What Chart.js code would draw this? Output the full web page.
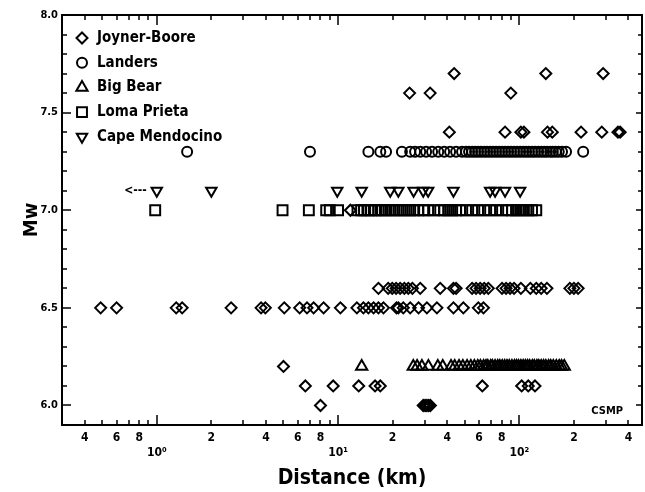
<!DOCTYPE html>
<html>
<head>
<meta charset="utf-8">
<script src="https://cdn.jsdelivr.net/npm/chart.js@4.4.0/dist/chart.umd.min.js"></script>
<style>
  html, body { margin: 0; padding: 0; background: #fff; overflow: hidden; }
  #wrap { width: 645px; height: 492px; }
</style>
</head>
<body>
<div id="wrap"><canvas id="chart" width="645" height="492"></canvas></div>
<script>
// distances in km, magnitudes Mw
var joynerDist = [43.7, 140, 290,
  24.8, 32.2, 89.7,
  41.1, 83.4, 102, 106, 143, 152, 219, 285, 350, 360,
  11.7,
  16.7, 18.9, 19.9, 20.9, 22.0, 23.2, 24.4, 25.7, 28.4, 36.6, 43.3, 44.8, 54.9, 57.7, 60.8, 64.0, 67.4,
  80.3, 84.5, 88.9, 93.5, 102, 115, 124, 132, 142, 190, 200, 211,
  0.49, 0.60, 1.28, 1.38, 2.57, 3.76, 3.97, 5.05, 6.14, 6.74, 7.33, 8.32, 10.3, 12.7, 13.8, 14.7, 15.7,
  16.7, 17.8, 21.0, 21.5, 22.9, 25.0, 27.8, 30.9, 35.1, 43.3, 49.1, 59.4, 63.4,
  5.0,
  6.6, 9.4, 13.0, 16.0, 17.1, 62.5, 103, 112, 122,
  8.0, 29.5, 30.2, 30.9, 31.6, 32.3];
var joynerMw = [7.7, 7.7, 7.7,
  7.6, 7.6, 7.6,
  7.4, 7.4, 7.4, 7.4, 7.4, 7.4, 7.4, 7.4, 7.4, 7.4,
  7.0,
  6.6, 6.6, 6.6, 6.6, 6.6, 6.6, 6.6, 6.6, 6.6, 6.6, 6.6, 6.6, 6.6, 6.6, 6.6, 6.6, 6.6,
  6.6, 6.6, 6.6, 6.6, 6.6, 6.6, 6.6, 6.6, 6.6, 6.6, 6.6, 6.6,
  6.5, 6.5, 6.5, 6.5, 6.5, 6.5, 6.5, 6.5, 6.5, 6.5, 6.5, 6.5, 6.5, 6.5, 6.5, 6.5, 6.5,
  6.5, 6.5, 6.5, 6.5, 6.5, 6.5, 6.5, 6.5, 6.5, 6.5, 6.5, 6.5, 6.5,
  6.2,
  6.1, 6.1, 6.1, 6.1, 6.1, 6.1, 6.1, 6.1, 6.1,
  6.0, 6.0, 6.0, 6.0, 6.0, 6.0];

var landersMw = 7.3;
var landersDist = [1.47, 7.0, 14.7, 17.1, 18.4, 22.5, 25.0, 26.6, 28.4, 30.6, 33.0, 35.7, 38.5, 41.5,
  44.8, 48.3, 50.8, 52.8, 54.9, 57.0, 59.2, 61.5, 64.0, 66.4, 69.0, 71.6, 74.4, 77.3, 80.3, 83.4,
  86.7, 90.0, 93.5, 97.1, 101, 105, 109, 113, 117.5, 122, 127, 132, 137, 142, 148, 153, 159, 165,
  172, 181, 225];

var bigBearMw = 6.2;
var bigBearDist = [13.5, 26.0, 27.3, 29.0, 31.5, 35.5, 37.8, 42.0, 44.0, 46.5, 48.8, 51.5, 54.0,
  56.5, 59.0, 61.0, 63.5, 65.5, 67.0, 69.5, 71.0, 73.5, 76.0, 78.0, 80.5, 83.0, 85.5, 88.0, 91.0,
  94.0, 96.5, 99.0, 102, 105, 108, 111, 114, 118, 121, 125, 128, 132, 136, 140, 145, 149, 154,
  160, 166, 171, 177];

var lomaMw = 7.0;
var lomaDist = [0.98, 4.94, 6.9, 8.6, 9.0, 10.0, 12.8, 13.4, 13.9, 14.7, 15.2, 16.0, 16.7, 17.5,
  18.4, 19.4, 20.4, 21.5, 22.6, 23.8, 25.0, 26.3, 27.7, 29.5, 31.4, 33.9, 36.6, 38.5, 40.5, 42.6,
  44.8, 47.1, 50.8, 54.9, 59.2, 64.0, 69.0, 74.4, 80.3, 86.7, 91.2, 95.9, 101, 106, 112, 117.5, 124];

var capeMw = 7.1;
var capeDist = [1.0, 2.0, 9.9, 13.5, 19.4, 21.5, 26.1, 29.5, 31.4, 43.3, 69.0, 73.5, 83.4, 101];

var xTicks = [0.4, 0.5, 0.6, 0.7, 0.8, 0.9, 1, 2, 3, 4, 5, 6, 7, 8, 9,
  10, 20, 30, 40, 50, 60, 70, 80, 90, 100, 200, 300, 400];
var xLabeled = [2, 4, 6, 8];
var yTicks = [5.9, 6.0, 6.1, 6.2, 6.3, 6.4, 6.5, 6.6, 6.7, 6.8, 6.9, 7.0, 7.1, 7.2, 7.3, 7.4, 7.5,
  7.6, 7.7, 7.8, 7.9, 8.0];
var yLabeled = [6.0, 6.5, 7.0, 7.5, 8.0];
var sup = { '-1': '⁻¹', '0': '⁰', '1': '¹', '2': '²' };

var FONT = "'DejaVu Sans Condensed', 'Liberation Sans Narrow', 'DejaVu Sans', sans-serif";
Chart.defaults.color = '#000';
Chart.defaults.font.family = FONT;

function pts(dist, mw) {
  return dist.map(function (d, i) {
    return { x: d, y: Array.isArray(mw) ? mw[i] : mw };
  });
}

function decade(v) {
  var e = Math.log10(v);
  return Math.abs(e - Math.round(e)) < 1e-6;
}

function series(label, data, style, radius, rot) {
  return {
    label: label,
    data: data,
    showLine: false,
    pointStyle: style,
    pointRadius: radius,
    pointRotation: rot || 0,
    pointBorderWidth: 2,
    borderColor: '#000',
    backgroundColor: 'rgba(0,0,0,0)'
  };
}

var frame = {
  id: 'frame',
  afterDraw: function (chart) {
    var ctx = chart.ctx, a = chart.chartArea;
    var xs = chart.scales.x, ys = chart.scales.y;
    ctx.save();
    ctx.strokeStyle = '#000';
    ctx.lineWidth = 1.5;
    ctx.beginPath();
    xs.ticks.forEach(function (t) {
      var px = Math.round(xs.getPixelForValue(t.value));
      var len = decade(t.value) ? 10 : 5;
      ctx.moveTo(px, a.bottom); ctx.lineTo(px, a.bottom - len);
      ctx.moveTo(px, a.top); ctx.lineTo(px, a.top + len);
    });
    ys.ticks.forEach(function (t) {
      var py = Math.round(ys.getPixelForValue(t.value));
      var major = yLabeled.indexOf(t.value) >= 0;
      ctx.moveTo(a.left, py); ctx.lineTo(a.left + (major ? 9 : 5), py);
      ctx.moveTo(a.right, py); ctx.lineTo(a.right - (major ? 6 : 4), py);
    });
    ctx.stroke();
    ctx.lineWidth = 2;
    ctx.strokeRect(a.left, a.top, a.right - a.left, a.bottom - a.top);

    // legend inside the plot, top left
    ctx.fillStyle = '#000';
    ctx.font = 'bold 15px ' + FONT;
    ctx.textBaseline = 'middle';
    ctx.textAlign = 'left';
    chart.data.datasets.forEach(function (ds, i) {
      var y = a.top + 23 + i * 24.7;
      ctx.save();
      ctx.fillStyle = 'rgba(0,0,0,0)';
      ctx.lineWidth = 2;
      Chart.helpers.drawPoint(ctx, {
        pointStyle: ds.pointStyle, rotation: ds.pointRotation,
        radius: ds.pointRadius, borderWidth: 2
      }, a.left + 20, y);
      ctx.restore();
      ctx.fillText(ds.label, a.left + 35, y);
    });

    // arrow note left of the first Cape Mendocino record
    ctx.font = 'bold 12px ' + FONT;
    ctx.textAlign = 'right';
    ctx.fillText('<---', xs.getPixelForValue(capeDist[0]) - 10, ys.getPixelForValue(capeMw));

    ctx.font = 'bold 11px ' + FONT;
    ctx.fillText('CSMP', a.right - 19, a.bottom - 14);
    ctx.restore();
  }
};

new Chart(document.getElementById('chart'), {
  type: 'scatter',
  data: {
    datasets: [
      series('Joyner-Boore', pts(joynerDist, joynerMw), 'rectRot', 5.5),
      series('Landers', pts(landersDist, landersMw), 'circle', 5),
      series('Big Bear', pts(bigBearDist, bigBearMw), 'triangle', 6.5),
      series('Loma Prieta', pts(lomaDist, lomaMw), 'rect', 7),
      series('Cape Mendocino', pts(capeDist, capeMw), 'triangle', 6, 180)
    ]
  },
  options: {
    responsive: false,
    animation: false,
    events: [],
    layout: { autoPadding: false, padding: { left: 0, top: 15, right: 3, bottom: 0 } },
    plugins: { legend: { display: false }, tooltip: { enabled: false } },
    scales: {
      x: {
        type: 'logarithmic',
        min: 0.3,
        max: 475,
        grid: { display: false, drawTicks: false },
        border: { display: false },
        afterBuildTicks: function (s) {
          s.ticks = xTicks.map(function (v) { return { value: v }; });
        },
        afterFit: function (s) {
          s.height = 67;
          s.paddingLeft = 0;
          s.paddingRight = 0;
        },
        ticks: {
          autoSkip: false,
          maxRotation: 0,
          padding: 5,
          font: { size: 12, weight: 'bold', lineHeight: 1.25 },
          callback: function (v) {
            var e = Math.floor(Math.log10(v) + 1e-9);
            var m = Math.round(v / Math.pow(10, e));
            if (m === 1) return ['', '10' + sup[e]];
            return xLabeled.indexOf(m) >= 0 ? String(m) : '';
          }
        },
        title: {
          display: true,
          text: 'Distance (km)',
          font: { size: 21, weight: 'bold' },
          padding: { top: 0, bottom: 1 }
        }
      },
      y: {
        min: 5.9,
        max: 8.0,
        grid: { display: false, drawTicks: false },
        border: { display: false },
        afterBuildTicks: function (s) {
          s.ticks = yTicks.map(function (v) { return { value: v }; });
        },
        afterFit: function (s) {
          s.width = 62;
          s.paddingTop = 0;
          s.paddingBottom = 0;
        },
        ticks: {
          autoSkip: false,
          padding: 4,
          font: { size: 11, weight: 'bold' },
          callback: function (v) {
            return yLabeled.indexOf(v) >= 0 ? v.toFixed(1) : '';
          }
        },
        title: {
          display: true,
          text: 'Mw',
          font: { size: 20, weight: 'bold' },
          padding: { top: 20, bottom: 0 }
        }
      }
    }
  },
  plugins: [frame]
});
</script>
</body>
</html>
